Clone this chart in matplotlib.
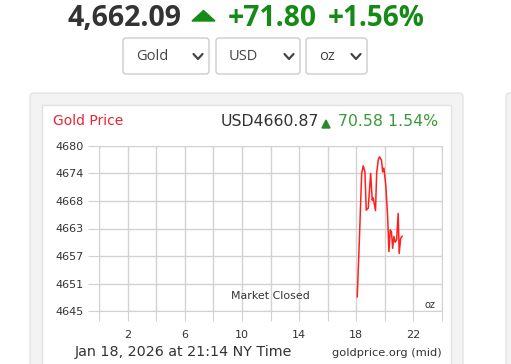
import matplotlib.pyplot as plt
from matplotlib.patches import FancyBboxPatch, Polygon

# intraday gold price (hour of day, USD/oz)
hours = [18.08, 18.23, 18.39, 18.50, 18.62, 18.71, 18.85, 19.02, 19.13, 19.20,
         19.36, 19.44, 19.55, 19.64, 19.78, 19.86, 19.95, 20.08, 20.21, 20.30,
         20.39, 20.48, 20.56, 20.65, 20.74, 20.84, 20.95, 21.02, 21.12, 21.23]
prices = [4648.0, 4660.1, 4674.2, 4675.8, 4674.5, 4666.4, 4666.8, 4674.2, 4668.5, 4669.0,
          4666.3, 4674.2, 4677.0, 4677.7, 4677.0, 4674.5, 4675.3, 4671.7, 4665.0, 4657.6,
          4662.2, 4661.8, 4658.3, 4660.8, 4659.6, 4660.1, 4665.7, 4657.2, 4660.4, 4660.87]

y_ticks = [4645, 4650.83, 4656.67, 4662.5, 4668.33, 4674.17, 4680]
y_labels = ['4645', '4651', '4657', '4663', '4668', '4674', '4680']
x_ticks = [0, 2, 4, 6, 8, 10, 12, 14, 16, 18, 20, 22, 24]
x_labels = ['', '2', '', '6', '', '10', '', '14', '', '18', '', '22', '']

price = '4,662.09'
change = '+71.80'
change_pct = '+1.56%'
dropdowns = ['Gold', 'USD', 'oz']

W, H = 511, 364
fig = plt.figure(figsize=(W / 100, H / 100), dpi=100)

# background layer in pixel coordinates
bg = fig.add_axes([0, 0, 1, 1])
bg.set_xlim(0, W)
bg.set_ylim(H, 0)
bg.axis('off')

green = '#168a16'
dark = '#333333'

# header line
bg.text(68, 18, price, fontsize=20.5, fontweight='bold', color=dark,
        family='Open Sans', va='center', ha='left')
bg.add_patch(Polygon([[192, 21], [203.5, 10.5], [215, 21]], closed=True, color=green))
bg.text(228, 18, change, fontsize=20.3, fontweight='bold', color=green,
        family='Open Sans', va='center', ha='left')
bg.text(328, 18, change_pct, fontsize=20.1, fontweight='bold', color=green,
        family='Open Sans', va='center', ha='left')

# dropdown boxes
boxes = [(123, 209), (216, 300), (306, 367)]
for (x0, x1), label in zip(boxes, dropdowns):
    bg.add_patch(FancyBboxPatch((x0, 38), x1 - x0, 36,
                                boxstyle='round,pad=0,rounding_size=3',
                                fc='white', ec='#cccccc', lw=1))
    bg.text(x0 + 13, 56, label, fontsize=10.5, color='#444444',
            family='Open Sans', va='center', ha='left')
    cx = x1 - 11
    bg.plot([cx - 4.5, cx, cx + 4.5], [54, 59, 54], color='#444444', lw=1.6,
            solid_capstyle='round', solid_joinstyle='round')

# cards
bg.add_patch(FancyBboxPatch((30, 93), 433, 300, boxstyle='round,pad=0,rounding_size=4',
                            fc='#f3f3f3', ec='#e4e4e4', lw=1))
bg.add_patch(FancyBboxPatch((506, 93), 40, 300, boxstyle='round,pad=0,rounding_size=4',
                            fc='#f3f3f3', ec='#e4e4e4', lw=1))
bg.add_patch(FancyBboxPatch((42, 105), 409, 300, boxstyle='square,pad=0',
                            fc='white', ec='#e2e2e2', lw=1))

# chart header
bg.text(53, 121, 'Gold Price', fontsize=10, color='#ee2233', va='center', ha='left')
bg.text(221, 122, 'USD4660.87', fontsize=11.3, color=dark, va='center', ha='left')
bg.add_patch(Polygon([[322, 128], [326, 120], [330, 128]], closed=True, color='#2a8a2a'))
bg.text(338, 122, '70.58 1.54%', fontsize=11.3, color='#3a9a3a', va='center', ha='left')

# footer
bg.text(75, 352, 'Jan 18, 2026 at 21:14 NY Time', fontsize=10.25, color=dark,
        va='center', ha='left')
bg.text(442, 353, 'goldprice.org (mid)', fontsize=8.2, color=dark,
        va='center', ha='right')

# price chart
ax = fig.add_axes([99.3 / W, 1 - 311 / H, (441.7 - 99.3) / W, (311 - 146) / H])
ax.set_xlim(0, 24)
ax.set_ylim(4645, 4680)
ax.plot(hours, prices, color='#ff1f1f', lw=1.1)

ax.set_yticks(y_ticks, y_labels)
ax.set_xticks(x_ticks, x_labels)
ax.grid(color='#d2d2d2', lw=1)
ax.tick_params(axis='y', colors='#d2d2d2', labelcolor=dark, length=8, pad=3, labelsize=8)
ax.tick_params(axis='x', colors='#d2d2d2', labelcolor=dark, length=7, pad=7, labelsize=8)
for s in ax.spines.values():
    s.set_color('#d2d2d2')

ax.text(12, 4648.2, 'Market Closed', fontsize=7.9, color=dark, ha='center', va='center')
ax.text(23.2, 4646.3, 'oz', fontsize=7, color=dark, ha='center', va='center')

fig.savefig('out.png', dpi=100)
